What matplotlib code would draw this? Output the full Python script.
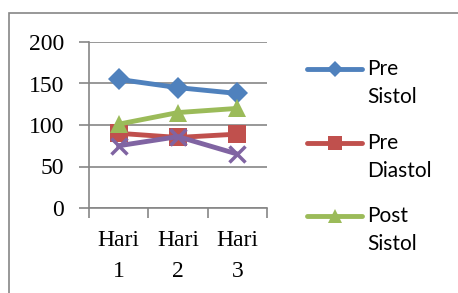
import matplotlib.pyplot as plt
from matplotlib.patches import Rectangle
from matplotlib.lines import Line2D

categories = ['Hari\n1', 'Hari\n2', 'Hari\n3']
pre_sistol = [155, 145, 138]
pre_diastol = [90, 85, 89]
post_sistol = [101, 115, 120]
post_diastol = [75, 86, 65]

series = [
    ('Pre\nSistol', pre_sistol, '#4F81BD', 'D', 11),
    ('Pre\nDiastol', pre_diastol, '#C0504D', 's', 13),
    ('Post\nSistol', post_sistol, '#9BBB59', '^', 13),
    ('Post\nDiastol', post_diastol, '#8064A2', 'x', 12),
]

grey = '#868686'
W, H = 458, 293

fig = plt.figure(figsize=(4.58, 2.93), dpi=100)
fig.patches.append(Rectangle((9 / W, -0.1), 1.2, 1.1 - 13 / H, transform=fig.transFigure,
                             fill=False, edgecolor=grey, linewidth=1.2))
ax = fig.add_axes([89 / W, 85 / H, 178 / W, 166 / H])

x = range(len(categories))
for name, vals, col, mk, ms in series:
    kw = dict(markeredgewidth=2.5) if mk == 'x' else dict(markeredgewidth=0)
    ax.plot(x, vals, color=col, linewidth=3.5, marker=mk, markersize=ms,
            markerfacecolor=col, markeredgecolor=col, label=name, **kw)

ax.set_xlim(-0.5, 2.5)
ax.set_ylim(0, 200)
ax.set_yticks([0, 50, 100, 150, 200])
ax.set_xticks([-0.5, 0.5, 1.5, 2.5])
ax.set_xticklabels([])
ax.set_xticks(list(x), minor=True)
ax.set_xticklabels(categories, minor=True, fontfamily='Liberation Serif', fontsize=17,
                   linespacing=1.6)
ax.tick_params(axis='x', which='minor', length=0, pad=16)
ax.tick_params(axis='x', which='major', length=7, width=1.2, color=grey, direction='out')
ax.tick_params(axis='y', length=7, width=1.2, color=grey, pad=11, labelsize=17)
for lbl in ax.get_yticklabels():
    lbl.set_fontfamily('Liberation Serif')
ax.grid(axis='y', color=grey, linewidth=1.2)
ax.set_axisbelow(True)
for side in ['top', 'right']:
    ax.spines[side].set_visible(False)
for side in ['left', 'bottom']:
    ax.spines[side].set_color(grey)
    ax.spines[side].set_linewidth(1.2)

# legend drawn by hand: handle sits on the first text line, like the original
# (only the first three series fit in the box)
for i, (name, vals, col, mk, ms) in enumerate(series[:3]):
    yc = 1 - (69 + 73.5 * i) / H
    fig.add_artist(Line2D([307 / W, 362 / W], [yc, yc], transform=fig.transFigure,
                          color=col, linewidth=3.5, solid_capstyle='round'))
    fig.add_artist(Line2D([334.5 / W], [yc], transform=fig.transFigure, marker=mk,
                          markersize=ms - 3, color=col, markeredgewidth=0))
    fig.text(367 / W, yc + 10 / H, name, ha='left', va='top', fontfamily='Lato',
             fontsize=15, linespacing=1.5)

fig.savefig('out.png', dpi=100)
